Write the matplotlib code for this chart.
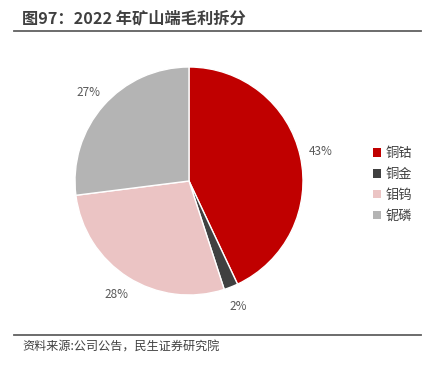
import matplotlib
matplotlib.use("Agg")
import matplotlib.pyplot as plt
from matplotlib.lines import Line2D
from matplotlib.patches import Patch

plt.rcParams['font.family'] = ['Noto Sans CJK SC', 'DejaVu Sans']

categories = ['铜钴', '铜金', '钼钨', '铌磷']
values = [43, 2, 28, 27]
colors = ['#C00000', '#404040', '#EBC4C4', '#B4B4B4']
title = '图97：2022 年矿山端毛利拆分'
source = '资料来源:公司公告，民生证券研究院'

W, H = 438, 375
fig = plt.figure(figsize=(W / 100, H / 100), dpi=100)

cx, cy, r = 189, 181, 114
ax = fig.add_axes([(cx - r) / W, (H - cy - r) / H, 2 * r / W, 2 * r / H])
wedges, texts, autotexts = ax.pie(
    values, colors=colors, startangle=90, counterclock=False,
    autopct=lambda p: f'{p:.0f}%', pctdistance=1.18, labels=None,
    wedgeprops=dict(edgecolor='white', linewidth=1.0),
    textprops=dict(fontsize=8.5, color='#595959'))
ax.set_xlim(-1, 1)
ax.set_ylim(-1, 1)
ax.set_aspect('equal')
ax.axis('off')

handles = [Patch(facecolor=c, edgecolor='none') for c in colors]
fig.legend(handles, categories, loc='center left',
           bbox_to_anchor=(361 / W, 1 - 185 / H), frameon=False,
           fontsize=9.5, labelcolor='#404040', handlelength=0.6, handleheight=0.6,
           handletextpad=0.35, labelspacing=0.6)

fig.text(22 / W, 1 - 18 / H, title, fontsize=11.7, fontweight='bold',
         color='#404040', va='center', ha='left')
fig.add_artist(Line2D([14 / W, 421 / W], [1 - 31 / H, 1 - 31 / H],
                      color='#606060', linewidth=1.3))
fig.add_artist(Line2D([14 / W, 421 / W], [1 - 335 / H, 1 - 335 / H],
                      color='#606060', linewidth=1.3))
fig.text(22 / W, 1 - 347 / H, source, fontsize=8.7, color='#404040',
         va='center', ha='left')

fig.savefig('out.png', dpi=100)
